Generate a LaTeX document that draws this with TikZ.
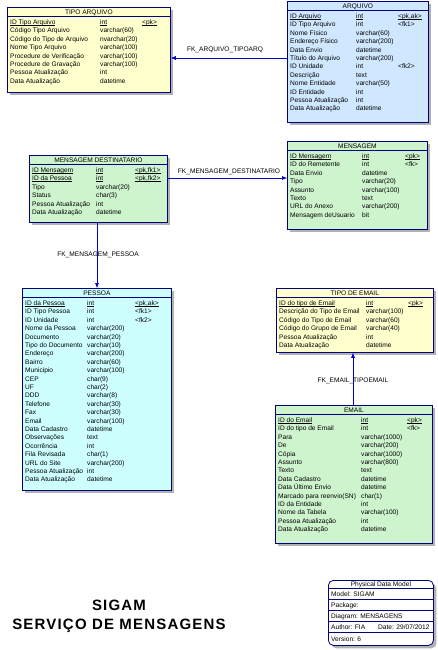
\documentclass[tikz,border=0pt]{standalone}
\usepackage{fontspec}
\setmainfont{Liberation Sans}
\newfontfamily\titulofont[LetterSpace=8]{Liberation Sans}
\usetikzlibrary{arrows.meta,positioning,calc,shadows}

\definecolor{amarelo}{RGB}{255,255,206}
\definecolor{azulclaro}{RGB}{208,232,255}
\definecolor{ciano}{RGB}{206,255,255}
\definecolor{verde}{RGB}{206,244,206}
\definecolor{borda}{RGB}{0,0,128}
\definecolor{ligacao}{RGB}{0,0,200}

% chave primaria sublinhada rente ao texto
\newcommand{\pk}[1]{\setbox0=\hbox{#1}\rlap{\rule[-0.9pt]{\wd0}{0.4pt}}\box0}

\tikzset{
	tabela/.style={draw=borda, line width=0.8pt, anchor=north west, inner sep=0pt,
		drop shadow={shadow xshift=3pt, shadow yshift=-3pt, fill=black!30, opacity=1}},
	divisao/.style={borda, line width=0.6pt},
	titulo/.style={font=\fontsize{6.6}{8}\selectfont, inner sep=0pt, anchor=base},
	campo/.style={font=\fontsize{6.6}{8}\selectfont, inner sep=0pt, anchor=base west},
	rotulo/.style={font=\fontsize{6.6}{8}\selectfont, inner sep=0pt},
	fk/.style={ligacao, line width=0.6pt, -{Latex[length=5pt,width=4pt]}},
}

\begin{document}
\begin{tikzpicture}[x=1pt, y=-1pt]
	\fill[white] (0,0) rectangle (438,650);
	\useasboundingbox (0,0) rectangle (438,650);
	
	% TIPO ARQUIVO
	\node[tabela, fill=amarelo, minimum width=163pt, minimum height=85pt] (tipoarq) at (7,7) {};
	\node[titulo] at ($(tipoarq.north)+(0,7.5)$) {TIPO ARQUIVO};
	\draw[divisao] ($(tipoarq.north west)+(0,9.5)$) -- ($(tipoarq.north east)+(0,9.5)$);
	\foreach \nome/\tipo/\chave [count=\i from 0] in {
		\pk{ID Tipo Arquivo}/\pk{int}/\pk{<pk>},
		Código Tipo Arquivo/varchar(60)/{},
		Código do Tipo de Arquivo/nvarchar(20)/{},
		Nome Tipo Arquivo/varchar(100)/{},
		Procedure de Verificação/varchar(100)/{},
		Procedure de Gravação/varchar(100)/{},
		Pessoa Atualização/int/{},
		Data Atualização/datetime/{}} {
		\node[campo] at ($(tipoarq.north west)+(3,17.5+\i*8.4)$) {\nome};
		\node[campo] at ($(tipoarq.north west)+(93,17.5+\i*8.4)$) {\tipo};
		\node[campo] at ($(tipoarq.north west)+(135,17.5+\i*8.4)$) {\chave};
	}
	
	% ARQUIVO
	\node[tabela, fill=azulclaro, minimum width=141pt, minimum height=121pt] (arquivo) at (287,1) {};
	\node[titulo] at ($(arquivo.north)+(0,7.5)$) {ARQUIVO};
	\draw[divisao] ($(arquivo.north west)+(0,9.5)$) -- ($(arquivo.north east)+(0,9.5)$);
	\foreach \nome/\tipo/\chave [count=\i from 0] in {
		\pk{ID Arquivo}/\pk{int}/\pk{<pk,ak>},
		ID Tipo Arquivo/int/{<fk1>},
		Nome Físico/varchar(60)/{},
		Endereço Físico/varchar(200)/{},
		Data Envio/datetime/{},
		Título do Arquivo/varchar(200)/{},
		ID Unidade/int/{<fk2>},
		Descrição/text/{},
		Nome Entidade/varchar(50)/{},
		ID Entidade/int/{},
		Pessoa Atualização/int/{},
		Data Atualização/datetime/{}} {
		\node[campo] at ($(arquivo.north west)+(3,17.5+\i*8.4)$) {\nome};
		\node[campo] at ($(arquivo.north west)+(69,17.5+\i*8.4)$) {\tipo};
		\node[campo] at ($(arquivo.north west)+(111,17.5+\i*8.4)$) {\chave};
	}
	
	% MENSAGEM DESTINATARIO
	\node[tabela, fill=verde, minimum width=138pt, minimum height=67pt] (mensdest) at (29,155) {};
	\node[titulo] at ($(mensdest.north)+(0,7.5)$) {MENSAGEM DESTINATARIO};
	\draw[divisao] ($(mensdest.north west)+(0,9.5)$) -- ($(mensdest.north east)+(0,9.5)$);
	\foreach \nome/\tipo/\chave [count=\i from 0] in {
		\pk{ID Mensagem}/\pk{int}/\pk{<pk,fk1>},
		\pk{ID da Pessoa}/\pk{int}/\pk{<pk,fk2>},
		Tipo/varchar(20)/{},
		Status/char(3)/{},
		Pessoa Atualização/int/{},
		Data Atualização/datetime/{}} {
		\node[campo] at ($(mensdest.north west)+(3,17.5+\i*8.4)$) {\nome};
		\node[campo] at ($(mensdest.north west)+(67,17.5+\i*8.4)$) {\tipo};
		\node[campo] at ($(mensdest.north west)+(106,17.5+\i*8.4)$) {\chave};
	}
	
	% MENSAGEM
	\node[tabela, fill=verde, minimum width=140pt, minimum height=88pt] (mensagem) at (287,141) {};
	\node[titulo] at ($(mensagem.north)+(0,7.5)$) {MENSAGEM};
	\draw[divisao] ($(mensagem.north west)+(0,9.5)$) -- ($(mensagem.north east)+(0,9.5)$);
	\foreach \nome/\tipo/\chave [count=\i from 0] in {
		\pk{ID Mensagem}/\pk{int}/\pk{<pk>},
		ID do Remetente/int/{<fk>},
		Data Envio/datetime/{},
		Tipo/varchar(20)/{},
		Assunto/varchar(100)/{},
		Texto/text/{},
		URL do Anexo/varchar(200)/{},
		Mensagem deUsuario/bit/{}} {
		\node[campo] at ($(mensagem.north west)+(3,17.5+\i*8.4)$) {\nome};
		\node[campo] at ($(mensagem.north west)+(75,17.5+\i*8.4)$) {\tipo};
		\node[campo] at ($(mensagem.north west)+(118,17.5+\i*8.4)$) {\chave};
	}
	
	% PESSOA
	\node[tabela, fill=ciano, minimum width=149pt, minimum height=202pt] (pessoa) at (22,288) {};
	\node[titulo] at ($(pessoa.north)+(0,7.5)$) {PESSOA};
	\draw[divisao] ($(pessoa.north west)+(0,9.5)$) -- ($(pessoa.north east)+(0,9.5)$);
	\foreach \nome/\tipo/\chave [count=\i from 0] in {
		\pk{ID da Pessoa}/\pk{int}/\pk{<pk,ak>},
		ID Tipo Pessoa/int/{<fk1>},
		ID Unidade/int/{<fk2>},
		Nome da Pessoa/varchar(200)/{},
		Documento/varchar(20)/{},
		Tipo do Documento/varchar(10)/{},
		Endereço/varchar(200)/{},
		Bairro/varchar(60)/{},
		Municipio/varchar(100)/{},
		CEP/char(9)/{},
		UF/char(2)/{},
		DDD/varchar(8)/{},
		Telefone/varchar(30)/{},
		Fax/varchar(30)/{},
		Email/varchar(100)/{},
		Data Cadastro/datetime/{},
		Observações/text/{},
		Ocorrência/int/{},
		Fila Revisada/char(1)/{},
		URL do Site/varchar(200)/{},
		Pessoa Atualização/int/{},
		Data Atualização/datetime/{}} {
		\node[campo] at ($(pessoa.north west)+(3,17.5+\i*8.4)$) {\nome};
		\node[campo] at ($(pessoa.north west)+(65,17.5+\i*8.4)$) {\tipo};
		\node[campo] at ($(pessoa.north west)+(113,17.5+\i*8.4)$) {\chave};
	}
	
	% TIPO DE EMAIL
	\node[tabela, fill=amarelo, minimum width=157pt, minimum height=64pt] (tipoemail) at (276,288) {};
	\node[titulo] at ($(tipoemail.north)+(0,7.5)$) {TIPO DE EMAIL};
	\draw[divisao] ($(tipoemail.north west)+(0,9.5)$) -- ($(tipoemail.north east)+(0,9.5)$);
	\foreach \nome/\tipo/\chave [count=\i from 0] in {
		\pk{ID do tipo de Email}/\pk{int}/\pk{<pk>},
		Descrição do Tipo de Email/varchar(100)/{},
		Código do Tipo de Email/varchar(60)/{},
		Código do Grupo de Email/varchar(40)/{},
		Pessoa Atualização/int/{},
		Data Atualização/datetime/{}} {
		\node[campo] at ($(tipoemail.north west)+(3,17.5+\i*8.4)$) {\nome};
		\node[campo] at ($(tipoemail.north west)+(90,17.5+\i*8.4)$) {\tipo};
		\node[campo] at ($(tipoemail.north west)+(132,17.5+\i*8.4)$) {\chave};
	}
	
	% EMAIL
	\node[tabela, fill=verde, minimum width=157pt, minimum height=138pt] (email) at (275,405) {};
	\node[titulo] at ($(email.north)+(0,7.5)$) {EMAIL};
	\draw[divisao] ($(email.north west)+(0,9.5)$) -- ($(email.north east)+(0,9.5)$);
	\foreach \nome/\tipo/\chave [count=\i from 0] in {
		\pk{ID do Email}/\pk{int}/\pk{<pk>},
		ID do tipo de Email/int/{<fk>},
		Para/varchar(1000)/{},
		De/varchar(200)/{},
		Cópia/varchar(1000)/{},
		Assunto/varchar(800)/{},
		Texto/text/{},
		Data Cadastro/datetime/{},
		Data Último Envio/datetime/{},
		Marcado para reenvio(SN)/char(1)/{},
		ID da Entidade/int/{},
		Nome da Tabela/varchar(100)/{},
		Pessoa Atualização/int/{},
		Data Atualização/datetime/{}} {
		\node[campo] at ($(email.north west)+(3,17.5+\i*8.4)$) {\nome};
		\node[campo] at ($(email.north west)+(86,17.5+\i*8.4)$) {\tipo};
		\node[campo] at ($(email.north west)+(132,17.5+\i*8.4)$) {\chave};
	}
	
	% Ligacoes
	\draw[fk] (arquivo.west |- 0,58) -- (tipoarq.east |- 0,58);
	\node[rotulo] (fkarq) at (225,50) {FK\_ARQUIVO\_TIPOARQ};
	\draw[fk] (mensdest.east |- 0,178) -- (mensagem.west |- 0,178);
	\node[rotulo] (fkdest) at (229,172) {FK\_MENSAGEM\_DESTINATARIO};
	\draw[fk] (mensdest.south -| 97,0) -- (pessoa.north -| 97,0);
	\node[rotulo] (fkpessoa) at (98,255) {FK\_MENSAGEM\_PESSOA};
	\draw[fk] (email.north -| 353,0) -- (tipoemail.south -| 353,0);
	\node[rotulo] (fkemail) at (353,381) {FK\_EMAIL\_TIPOEMAIL};
	
	% Titulo
	\node[font=\titulofont\fontsize{15}{19}\bfseries\selectfont, align=center, inner sep=0pt]
		(titulo) at (119,616.5) {SIGAM\\SERVIÇO DE MENSAGENS};
	
	% Legenda
	\node[tabela, fill=white, rounded corners=5pt, minimum width=105pt, minimum height=65pt] (modelo) at (328,580) {};
	\foreach \d in {8,19,30,41,52} {
		\draw[divisao] ($(modelo.north west)+(0,\d)$) -- ($(modelo.north east)+(0,\d)$);
	}
	\node[titulo] at ($(modelo.north)+(0,6)$) {Physical Data Model};
	\node[campo] at ($(modelo.north west)+(3,16)$) {Model: SIGAM};
	\node[campo] at ($(modelo.north west)+(3,27)$) {Package:};
	\node[campo] at ($(modelo.north west)+(3,38)$) {Diagram: MENSAGENS};
	\node[campo] at ($(modelo.north west)+(3,49)$) {Author: FIA};
	\node[campo] at ($(modelo.north west)+(50,49)$) {Date: 29/07/2012};
	\node[campo] at ($(modelo.north west)+(3,61)$) {Version: 6};
\end{tikzpicture}
\end{document}
